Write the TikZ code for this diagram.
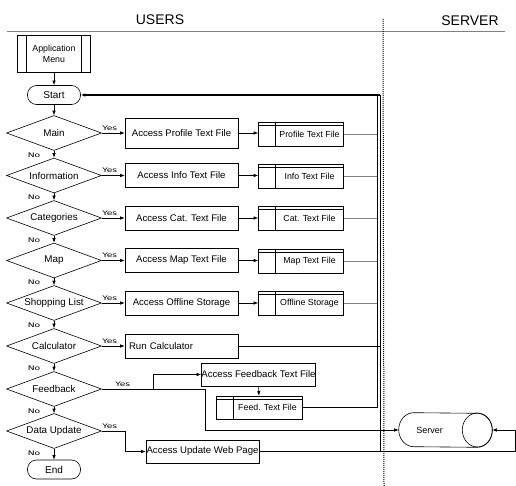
\documentclass[tikz,border=0pt]{standalone}
\usepackage{fontspec}
\usepackage{graphicx}
\setmainfont{Liberation Sans}
\newfontfamily\ynfont{DejaVu Sans}
\usetikzlibrary{shapes.geometric,arrows.meta}
\begin{document}
\begin{tikzpicture}[x=1pt,y=-1pt,
  line width=0.6pt,
  >={Latex[length=4.5pt,width=3.5pt]},
  every node/.style={inner sep=1pt},
  dec/.style={draw, diamond, aspect=3, minimum width=95pt, minimum height=35pt, inner sep=0pt, font=\fontsize{9.8}{11}\selectfont},
  act/.style={draw, rectangle, minimum width=113pt, minimum height=24pt, inner sep=0pt, font=\fontsize{9.6}{11}\selectfont},
  filebox/.style={draw, rectangle, minimum width=85pt, minimum height=24pt, inner sep=0pt, font=\fontsize{8.8}{10}\selectfont,
    path picture={
      \draw ([xshift=17pt]path picture bounding box.north west) -- ([xshift=17pt]path picture bounding box.south west);
      \draw ([yshift=-3pt]path picture bounding box.north west) -- ([yshift=-3pt]path picture bounding box.north east);
    }},
  term/.style={draw, rectangle, rounded corners=9pt, minimum width=53pt, minimum height=19pt, inner sep=0pt, font=\fontsize{10}{11}\selectfont},
  yn/.style={font=\ynfont\fontsize{6.3}{7}\selectfont, inner sep=0pt},
  head/.style={font=\fontsize{14}{15}\selectfont, inner sep=0pt},
  bus/.style={gray, line width=0.5pt}
]
\useasboundingbox (0,0) rectangle (516,486);

% headers
\node[head] (husers) at (160,20) {USERS};
\node[head] (hserver) at (470,21) {SERVER};
\draw[gray, line width=0.7pt] (7,31) -- (505,31);
\draw[line width=1pt, dash pattern=on 1pt off 1pt] (383,19) -- (384,486);

% application menu
\node[draw, rectangle, minimum width=73pt, minimum height=37pt, inner sep=0pt, align=center,
  font=\fontsize{8.8}{10.5}\selectfont,
  path picture={
    \draw ([xshift=9pt]path picture bounding box.north west) -- ([xshift=9pt]path picture bounding box.south west);
    \draw ([xshift=-9pt]path picture bounding box.north east) -- ([xshift=-9pt]path picture bounding box.south east);
  }] (menu) at (54,54) {Application\\Menu};

\node[term] (start) at (54,95) {Start};

% decisions
\node[dec] (main) at (54,133) {Main};
\node[dec] (info) at (54,175.5) {Information};
\node[dec] (cat) at (54,218) {Categories};
\node[dec] (map) at (54,260.5) {Map};
\node[dec] (shop) at (54,303) {Shopping List};
\node[dec] (calc) at (54,346) {Calculator};
\node[dec] (fb) at (54,389) {Feedback};
\node[dec] (du) at (54,431) {Data Update};
\node[term] (end) at (54,469.5) {End};

% actions
\node[act, minimum height=30pt] (aprof) at (181.5,133) {Access Profile Text File};
\node[act] (ainfo) at (181.5,175.5) {Access Info Text File};
\node[act] (acat) at (181.5,218) {Access Cat. Text File};
\node[act] (amap) at (181.5,260.5) {Access Map Text File};
\node[act] (aoff) at (181.5,303) {Access Offline Storage};
\node[act, text width=105pt, align=left] (acalc) at (181.5,346) {Run Calculator};
\node[act, minimum height=23pt] (afb) at (258.5,374.5) {Access Feedback Text File};
\node[act, minimum height=23pt] (aup) at (202.5,451.5) {Access Update Web Page};

% files
\node[filebox] (fprof) at (301,134) {\hspace*{17pt}Profile Text File};
\node[filebox] (finfo) at (301,176) {\hspace*{17pt}Info Text File};
\node[filebox] (fcat) at (301,218.5) {\hspace*{17pt}Cat. Text File};
\node[filebox] (fmap) at (301,261) {\hspace*{17pt}Map Text File};
\node[filebox] (foff) at (301,303.5) {\hspace*{17pt}Offline Storage};
\node[filebox, minimum width=86pt, minimum height=23pt] (ffeed) at (259,407.5) {\hspace*{17pt}Feed. Text File};

% server (horizontal cylinder)
\node[minimum width=93pt, minimum height=34pt, inner sep=0pt,
  font=\fontsize{9}{10}\selectfont] (srv) at (445.5,430) {Server\hspace*{32pt}};
\draw ([xshift=15pt]srv.north west) arc[start angle=90, end angle=270, x radius=15pt, y radius=17pt]
  -- ([xshift=-15pt]srv.south east) arc[start angle=-90, end angle=90, x radius=15pt, y radius=17pt] -- cycle;
\draw ([xshift=-15pt]srv.east) ellipse[x radius=15pt, y radius=17pt];

% bus coordinates
\coordinate (busA) at (377,95);
\coordinate (busB) at (380,95);
\coordinate (fj) at (153,389);
\coordinate (fk) at (205,389);
\coordinate (dj) at (125,431);
\coordinate (rr) at (515,451.5);

% vertical flow
\draw[->] (menu) -- (start);
\draw[->] (start) -- (main);
\draw[->] (main) -- (info);
\draw[->] (info) -- (cat);
\draw[->] (cat) -- (map);
\draw[->] (map) -- (shop);
\draw[->] (shop) -- (calc);
\draw[->] (calc) -- (fb);
\draw[->] (fb) -- (du);
\draw[->] (du) -- (end);

% yes arrows
\foreach \d/\a in {main/aprof, info/ainfo, cat/acat, map/amap, shop/aoff, calc/acalc}{
  \draw[->] (\d.east) -- (\a.west);
}
\foreach \a/\f in {aprof/fprof, ainfo/finfo, acat/fcat, amap/fmap, aoff/foff}{
  \draw[->] (\a.east) -- (\a.east -| \f.west);
}

% labels
\foreach \d in {main, info, cat, map, shop, calc}{
  \node[yn] at ([xshift=8pt,yshift=5pt]\d.east) {\scalebox{1.45}[1]{Yes}};
}
\foreach \d in {main, info, cat, map, shop, calc, fb, du}{
  \node[yn] at ([xshift=-20pt,yshift=-4pt]\d.south) {\scalebox{1.45}[1]{No}};
}
\node[yn] at ([xshift=21pt,yshift=5pt]fb.east) {\scalebox{1.45}[1]{Yes}};
\node[yn] at ([xshift=8pt,yshift=5pt]du.east) {\scalebox{1.45}[1]{Yes}};

% file lines to bus
\foreach \f in {fprof, finfo, fcat, fmap, foff}{
  \draw[bus] (\f.east) -- (\f.east -| busA);
}
\draw (acalc.east) -- (acalc.east -| busB);
\draw[line width=1pt] (ffeed.east) -- (ffeed.east -| busA) -- (busA);
\draw[line width=1pt] (rr |- aup.east) -- (aup.east -| busB) -- (busB);
\draw[->, line width=1.2pt] (busB) -- (start.east);

% feedback
\draw[->] (fb.east) -- (fj) |- (afb.west);
\draw[->] (fj) -- (fk) |- (srv.west);
\draw[->] (afb.south) -- (ffeed.north);

% data update
\draw[->] (du.east) -- (dj) |- (aup.west);
\draw (aup.east) -- (rr);
\draw[->] (rr) |- (srv.east);
\end{tikzpicture}
\end{document}
